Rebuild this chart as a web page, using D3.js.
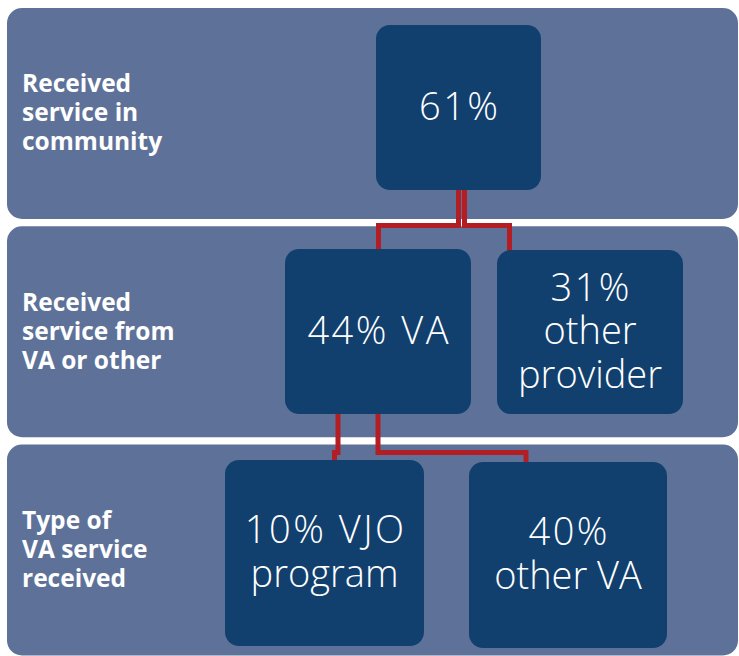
<!DOCTYPE html>
<html>
<head>
<meta charset="utf-8">
<script src="https://cdn.jsdelivr.net/npm/d3@7"></script>
<style>
  body { margin: 0; background: #fff; }
  svg { display: block; }
</style>
</head>
<body>
<div id="chart"></div>
<script>
// levels (rows) and their labels
var levels = ["community", "provider", "vaType"]
var levelLabels = [
    ["Received", "service in", "community"],
    ["Received", "service from", "VA or other"],
    ["Type of", "VA service", "received"]
]

// nodes
var nodeIds = ["all", "va", "other", "vjo", "otherVa"]
var nodeLevel = [0, 1, 1, 2, 2]
var nodePct = [61, 44, 31, 10, 40]
var nodeText = [
    ["{p}%"],
    ["{p}% VA"],
    ["{p}%", "other", "provider"],
    ["{p}% VJO", "program"],
    ["{p}%", "other VA"]
]

// links parent -> child
var linkSource = ["all", "all", "va", "va"]
var linkTarget = ["va", "other", "vjo", "otherVa"]

// ---- layout (pixels) ----
var width = 739, height = 656

var boxLayout = {
    all:     {x0: 376, x1: 541, y0: 25,  y1: 190},
    va:      {x0: 285, x1: 471, y0: 249, y1: 414},
    other:   {x0: 497, x1: 683, y0: 250, y1: 414},
    vjo:     {x0: 225, x1: 424, y0: 460, y1: 646},
    otherVa: {x0: 469, x1: 667, y0: 462, y1: 648}
}
// x where the link leaves the parent, x where it enters the child, y of the elbow
var linkLayout = [
    {sx: 458.5, tx: 378.5, my: 225.5},
    {sx: 464.5, tx: 509.5, my: 225.5},
    {sx: 338,   tx: 334.5, my: 452.5},
    {sx: 378,   tx: 526,   my: 452.5}
]

var bandColor = "#5e7299"
var boxColor = "#12406e"
var linkColor = "#b21e24"

var svg = d3.select("#chart").append("svg")
    .attr("width", width)
    .attr("height", height)

var yBand = d3.scaleBand()
    .domain(levels)
    .range([8, 655.5])
    .paddingInner(0.034)

// background bands
svg.selectAll(".band").data(levels)
    .enter().append("rect")
    .attr("class", "band")
    .attr("x", 7)
    .attr("width", 738 - 7)
    .attr("y", function(d){ return yBand(d) })
    .attr("height", yBand.bandwidth())
    .attr("rx", 15)
    .attr("fill", bandColor)

// band labels
var lineH = 29
svg.selectAll(".bandlabel").data(levels)
    .enter().append("text")
    .attr("class", "bandlabel")
    .attr("font-family", "'Open Sans', 'DejaVu Sans', sans-serif")
    .attr("font-weight", 700)
    .attr("font-size", "24.5px")
    .attr("fill", "#fff")
    .each(function(d, i){
        var lines = levelLabels[i]
        var cy = yBand(d) + yBand.bandwidth() / 2 + 8
        var y0 = cy - (lines.length - 1) * lineH / 2
        d3.select(this).selectAll("tspan").data(lines)
            .enter().append("tspan")
            .attr("x", 22)
            .attr("y", function(l, j){ return y0 + j * lineH })
            .text(function(l){ return l })
    })

var nodes = nodeIds.map(function(id, i){
    return {id: id, level: levels[nodeLevel[i]], pct: nodePct[i], lines: nodeText[i].map(function(t){ return t.replace("{p}", nodePct[i]) }), box: boxLayout[id]}
})
var byId = {}
nodes.forEach(function(n){ byId[n.id] = n })

// links (drawn under boxes)
var links = linkSource.map(function(s, i){
    return {source: byId[s], target: byId[linkTarget[i]], l: linkLayout[i]}
})
svg.selectAll(".link").data(links)
    .enter().append("path")
    .attr("class", "link")
    .attr("d", function(d){
        var p = d3.path()
        p.moveTo(d.l.sx, d.source.box.y1 - 2)
        p.lineTo(d.l.sx, d.l.my)
        p.lineTo(d.l.tx, d.l.my)
        p.lineTo(d.l.tx, d.target.box.y0 + 2)
        return p.toString()
    })
    .attr("fill", "none")
    .attr("stroke", linkColor)
    .attr("stroke-width", 5)
    .attr("stroke-linejoin", "miter")

// boxes
var g = svg.selectAll(".node").data(nodes)
    .enter().append("g")
    .attr("class", "node")

g.append("rect")
    .attr("x", function(d){ return d.box.x0 })
    .attr("y", function(d){ return d.box.y0 })
    .attr("width", function(d){ return d.box.x1 - d.box.x0 })
    .attr("height", function(d){ return d.box.y1 - d.box.y0 })
    .attr("rx", 14)
    .attr("fill", boxColor)

// one text per line, percent lines a bit wider like the original face
var boxLineH = 43.5
g.each(function(d){
    var cx = (d.box.x0 + d.box.x1) / 2
    var cy = (d.box.y0 + d.box.y1) / 2 + 12
    var y0 = cy - (d.lines.length - 1) * boxLineH / 2
    d3.select(this).selectAll(".boxtext").data(d.lines)
        .enter().append("text")
        .attr("class", "boxtext")
        .attr("font-family", "'Open Sans', 'DejaVu Sans', sans-serif")
        .attr("font-weight", 300)
        .attr("font-size", "38px")
        .attr("fill", "#fff")
        .attr("text-anchor", "middle")
        .attr("letter-spacing", function(l){ return l.indexOf("%") >= 0 ? "2.5px" : "0px" })
        .attr("x", function(l){ return cx + (l.indexOf("%") >= 0 ? 1.25 : 0) })
        .attr("y", function(l, j){ return y0 + j * boxLineH })
        .text(function(l){ return l })
})
</script>
</body>
</html>
